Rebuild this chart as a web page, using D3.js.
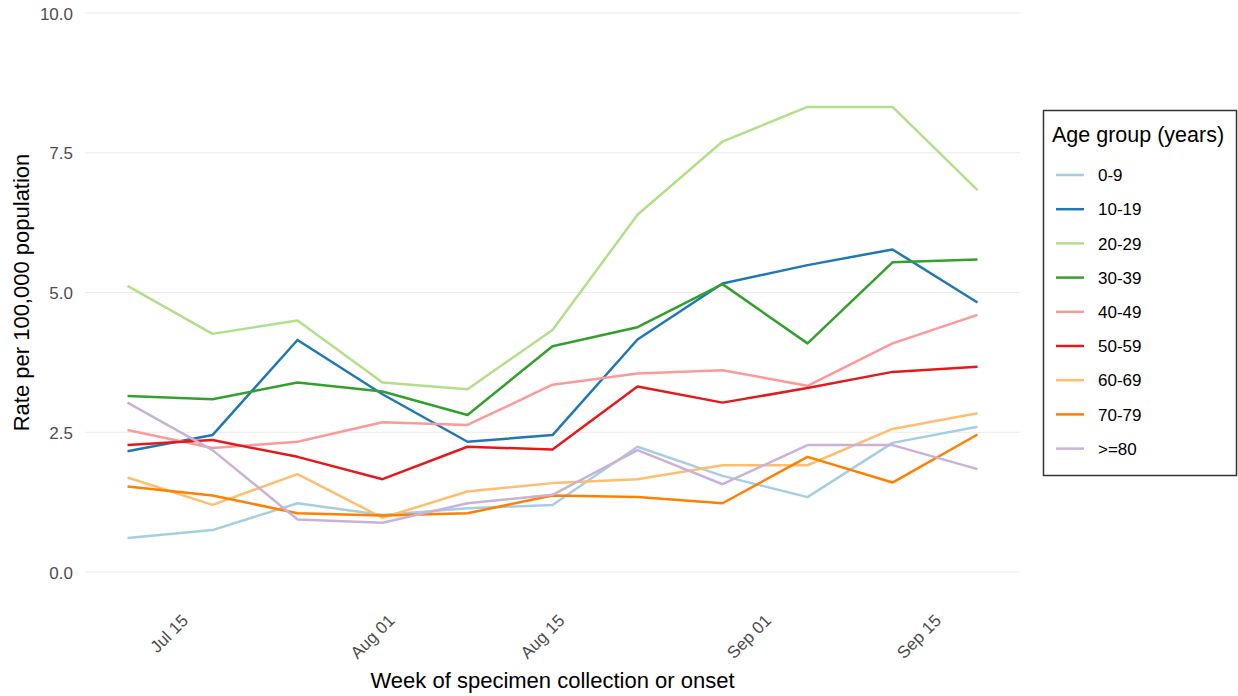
<!DOCTYPE html>
<html>
<head>
<meta charset="utf-8">
<script src="https://cdn.jsdelivr.net/npm/d3@7"></script>
<style>
  body { margin: 0; background: #fff; }
  svg { font-family: "Liberation Sans", Arial, sans-serif; }
</style>
</head>
<body>
<div id="chart"></div>
<script>
// Week start dates (2020)
const weeks = ['2020-07-11', '2020-07-18', '2020-07-25', '2020-08-01', '2020-08-08', '2020-08-15',
               '2020-08-22', '2020-08-29', '2020-09-05', '2020-09-12', '2020-09-19'];

const ageGroups = ['0-9', '10-19', '20-29', '30-39', '40-49', '50-59', '60-69', '70-79', '>=80'];

// Rate per 100,000 population, one array per age group
const age0to9   = [0.61, 0.75, 1.23, 1.02, 1.14, 1.20, 2.24, 1.72, 1.34, 2.31, 2.60];
const age10to19 = [2.16, 2.45, 4.15, 3.18, 2.33, 2.45, 4.16, 5.16, 5.49, 5.77, 4.82];
const age20to29 = [5.12, 4.26, 4.50, 3.39, 3.27, 4.33, 6.39, 7.70, 8.32, 8.32, 6.83];
const age30to39 = [3.15, 3.09, 3.39, 3.23, 2.81, 4.04, 4.38, 5.15, 4.09, 5.54, 5.59];
const age40to49 = [2.54, 2.22, 2.33, 2.68, 2.63, 3.35, 3.55, 3.61, 3.33, 4.09, 4.60];
const age50to59 = [2.27, 2.36, 2.06, 1.66, 2.24, 2.19, 3.32, 3.03, 3.29, 3.58, 3.67];
const age60to69 = [1.69, 1.20, 1.75, 0.97, 1.44, 1.59, 1.66, 1.91, 1.91, 2.56, 2.84];
const age70to79 = [1.53, 1.37, 1.05, 1.01, 1.05, 1.37, 1.34, 1.23, 2.06, 1.60, 2.46];
const age80plus = [3.03, 2.18, 0.94, 0.88, 1.23, 1.38, 2.18, 1.57, 2.27, 2.27, 1.84];

const yTicks = [0, 2.5, 5, 7.5, 10];
const xTickDates = ['2020-07-15', '2020-08-01', '2020-08-15', '2020-09-01', '2020-09-15'];

const width = 1238;
const height = 696;
const plot = { left: 85, right: 1020, top: 13, bottom: 572 };

const parseDate = d3.timeParse('%Y-%m-%d');
const dates = weeks.map(parseDate);

const allValues = [age0to9, age10to19, age20to29, age30to39, age40to49,
                   age50to59, age60to69, age70to79, age80plus];
const series = ageGroups.map((g, i) => ({
  name: g,
  values: allValues[i].map((v, j) => ({ date: dates[j], value: v }))
}));

const svg = d3.select('#chart').append('svg')
  .attr('width', width)
  .attr('height', height);

// Scales (5% padding on the date axis, as ggplot does)
const pad = (dates[dates.length - 1] - dates[0]) * 0.05;
const xScale = d3.scaleTime()
  .domain([new Date(+dates[0] - pad), new Date(+dates[dates.length - 1] + pad)])
  .range([plot.left, plot.right]);

const yScale = d3.scaleLinear()
  .domain([0, 10])
  .range([plot.bottom, plot.top]);

const colorScale = d3.scaleOrdinal()
  .domain(ageGroups)
  .range(d3.schemePaired);

// Horizontal grid lines
svg.append('g')
  .selectAll('line')
  .data(yTicks)
  .enter().append('line')
  .attr('x1', plot.left)
  .attr('x2', plot.right)
  .attr('y1', d => yScale(d))
  .attr('y2', d => yScale(d))
  .attr('stroke', '#ebebeb')
  .attr('stroke-width', 1.2);

// Y axis labels
const yAxis = svg.append('g')
  .attr('transform', `translate(${plot.left - 12}, 0)`)
  .call(d3.axisLeft(yScale).tickValues(yTicks).tickFormat(d3.format('.1f')).tickSize(0).tickPadding(0));
yAxis.select('.domain').remove();
yAxis.selectAll('text')
  .attr('fill', '#4d4d4d')
  .style('font-size', '17px')
  .attr('dy', '0.36em');

// X axis labels, rotated 45 degrees
const xAxis = svg.append('g')
  .attr('transform', `translate(0, ${plot.bottom})`)
  .call(d3.axisBottom(xScale)
    .tickValues(xTickDates.map(parseDate))
    .tickFormat(d3.timeFormat('%b %d'))
    .tickSize(0));
xAxis.select('.domain').remove();
xAxis.selectAll('text')
  .attr('fill', '#4d4d4d')
  .style('font-size', '17px')
  .attr('text-anchor', 'end')
  .attr('x', 0)
  .attr('y', 0)
  .attr('dy', '0.72em')
  .attr('transform', 'translate(4, 41) rotate(-45)');

// Axis titles
svg.append('text')
  .attr('x', (plot.left + plot.right) / 2)
  .attr('y', 688)
  .attr('text-anchor', 'middle')
  .style('font-size', '22px')
  .attr('fill', '#000')
  .text('Week of specimen collection or onset');

svg.append('text')
  .attr('transform', `translate(29, ${(plot.top + plot.bottom) / 2}) rotate(-90)`)
  .attr('text-anchor', 'middle')
  .style('font-size', '22px')
  .attr('fill', '#000')
  .text('Rate per 100,000 population');

// Lines
const line = d3.line()
  .x(d => xScale(d.date))
  .y(d => yScale(d.value));

svg.append('g')
  .selectAll('path')
  .data(series)
  .enter().append('path')
  .attr('d', d => line(d.values))
  .attr('fill', 'none')
  .attr('stroke', d => colorScale(d.name))
  .attr('stroke-width', 2.5)
  .attr('stroke-linejoin', 'round');

// Legend
const legend = svg.append('g');
legend.append('rect')
  .attr('x', 1043.5)
  .attr('y', 110.5)
  .attr('width', 193)
  .attr('height', 365)
  .attr('fill', '#fff')
  .attr('stroke', '#333')
  .attr('stroke-width', 1.5);

legend.append('text')
  .attr('x', 1052)
  .attr('y', 142)
  .style('font-size', '21.5px')
  .attr('fill', '#000')
  .text('Age group (years)');

const items = legend.selectAll('.item')
  .data(ageGroups)
  .enter().append('g')
  .attr('class', 'item')
  .attr('transform', (d, i) => `translate(0, ${175 + i * 34.2})`);

items.append('line')
  .attr('x1', 1056)
  .attr('x2', 1084)
  .attr('stroke', d => colorScale(d))
  .attr('stroke-width', 2.5);

items.append('text')
  .attr('x', 1098)
  .attr('dy', '0.36em')
  .style('font-size', '17px')
  .attr('fill', '#000')
  .text(d => d);
</script>
</body>
</html>
